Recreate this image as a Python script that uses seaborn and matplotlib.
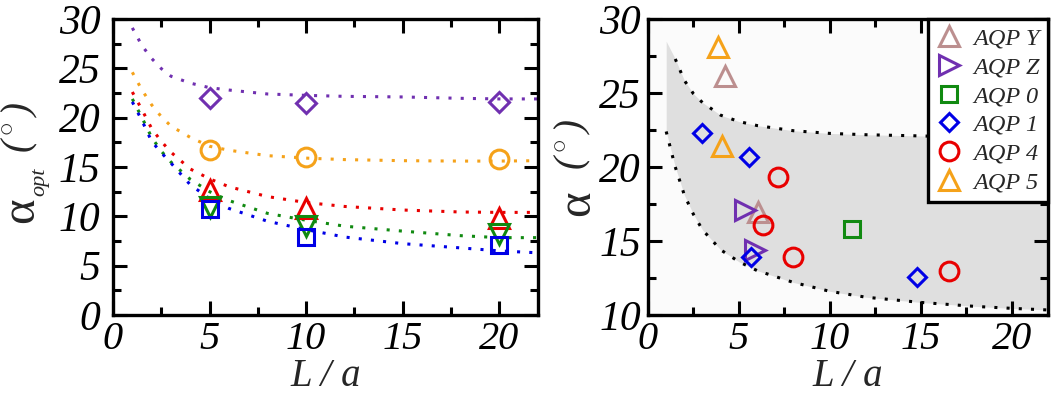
import numpy as np
import pandas as pd
import matplotlib
matplotlib.use("Agg")
import matplotlib.pyplot as plt
import seaborn as sns
from matplotlib.ticker import MultipleLocator

# ---------------- data ----------------
# left panel: optimal angle vs L/a
L_opt = [5, 10, 20]
opt_diamond = [22.0, 21.5, 21.6]     # purple diamonds
opt_circle = [16.7, 16.0, 15.85]     # orange circles
opt_up = [12.65, 10.8, 9.8]          # red up-triangles
opt_down = [10.9, 9.0, 8.2]          # green down-triangles
opt_square = [10.75, 7.9, 7.1]       # blue squares

# fitted dotted curves
fit_x = [1, 1.5, 2, 2.5, 3, 4, 5, 6, 8, 10, 12, 15, 18, 20, 22]
fit_purple = [29.1, 27.3, 26.0, 24.97, 24.2, 23.5, 23.04, 22.8, 22.4, 22.26, 22.16, 22.1, 21.96, 21.9, 21.9]
fit_orange = [24.6, 22.8, 21.3, 20.1, 19.15, 18.0, 17.1, 16.7, 16.15, 15.9, 15.75, 15.64, 15.6, 15.6, 15.64]
fit_red = [22.6, 20.8, 18.9, 17.6, 16.5, 14.8, 13.8, 13.0, 12.0, 11.4, 11.0, 10.64, 10.44, 10.4, 10.4]
fit_green = [21.9, 20.0, 18.0, 16.6, 15.5, 13.75, 12.5, 11.6, 10.3, 9.6, 9.0, 8.5, 8.04, 7.84, 7.84]
fit_blue = [21.6, 19.7, 17.6, 16.45, 15.4, 13.2, 11.8, 10.8, 9.5, 8.65, 7.9, 7.23, 6.8, 6.5, 6.3]

# right panel: band boundaries
band_x = [1, 1.5, 2, 2.5, 3, 4, 5, 6, 8, 10, 12, 15, 18, 20, 22]
band_upper = [28.5, 27.3, 25.85, 24.95, 24.35, 23.5, 23.07, 22.8, 22.45, 22.27, 22.18, 22.1, 22.0, 21.97, 21.95]
band_lower = [22.4, 20.0, 18.1, 16.8, 15.75, 14.4, 13.6, 13.0, 12.2, 11.6, 11.2, 10.85, 10.58, 10.45, 10.34]

# right panel: individual proteins
aqpY_x, aqpY_y = [4.21, 6.06], [26.15, 16.98]
aqpZ_x, aqpZ_y = [5.31, 5.86], [17.1, 14.4]
aqp0_x, aqp0_y = [11.23], [15.8]
aqp1_x, aqp1_y = [2.95, 5.55, 5.66, 14.78], [22.3, 20.7, 13.9, 12.55]
aqp4_x, aqp4_y = [7.16, 6.3, 7.97, 16.57], [19.3, 16.1, 13.94, 13.0]
aqp5_x, aqp5_y = [3.85, 4.07], [28.1, 21.4]

xtick_vals = [0, 5, 10, 15, 20]
ytick_left = [0, 5, 10, 15, 20, 25, 30]
ytick_right = [10, 15, 20, 25, 30]

# ---------------- styling ----------------
sns.set_theme(style="white")
plt.rcParams["font.family"] = ["Liberation Serif", "DejaVu Serif"]
plt.rcParams["font.style"] = "italic"
plt.rcParams["mathtext.fontset"] = "custom"
plt.rcParams["mathtext.rm"] = "Liberation Serif"
plt.rcParams["mathtext.it"] = "Liberation Serif:italic"

PURPLE = "#7030b0"
ORANGE = "#f5a21a"
RED = "#e80000"
GREEN = "#118a11"
BLUE = "#0000e6"
TAN = "#bc8f8f"
DOT = (0, (1, 3))
LW = 2.2
MEW = 2.2
W, H = 1051, 394

fig = plt.figure(figsize=(W / 100, H / 100), dpi=100)
axL = fig.add_axes([113 / W, 1 - 315 / H, (538 - 113) / W, (315 - 19) / H])
axR = fig.add_axes([648 / W, 1 - 315 / H, (1048 - 648) / W, (315 - 19) / H])


def px(x, y):
    return x / W, 1 - y / H


def curve(ax, x, y, color):
    sns.lineplot(x=x, y=y, ax=ax, color=color, lw=LW, linestyle=DOT,
                 errorbar=None, sort=False)


def marks(ax, x, y, color, marker, ms, label=None):
    sns.lineplot(x=x, y=y, ax=ax, color=color, linestyle="", marker=marker,
                 markersize=ms, markerfacecolor="none", markeredgecolor=color,
                 markeredgewidth=MEW, errorbar=None, label=label, sort=False)


# left panel
for ys, c in [(fit_purple, PURPLE), (fit_orange, ORANGE), (fit_red, RED),
              (fit_green, GREEN), (fit_blue, BLUE)]:
    curve(axL, fit_x, ys, c)
marks(axL, L_opt, opt_diamond, PURPLE, "D", 10)
marks(axL, L_opt, opt_circle, ORANGE, "o", 13.5)
marks(axL, L_opt, opt_up, RED, "^", 14)
marks(axL, L_opt, opt_down, GREEN, "v", 14)
marks(axL, L_opt, opt_square, BLUE, "s", 11.5)
axL.set_xlim(0, 22)
axL.set_ylim(0, 30)

# right panel
axR.set_facecolor("#fbfbfb")
axR.fill_between(band_x, band_lower, band_upper, color="#dfdfdf", lw=0, zorder=0.5)
curve(axR, band_x[1:], band_upper[1:], "black")
curve(axR, band_x, band_lower, "black")
marks(axR, aqpY_x, aqpY_y, TAN, "^", 14, "AQP Y")
marks(axR, aqpZ_x, aqpZ_y, PURPLE, ">", 14, "AQP Z")
marks(axR, aqp0_x, aqp0_y, GREEN, "s", 11.5, "AQP 0")
marks(axR, aqp1_x, aqp1_y, BLUE, "D", 9.5, "AQP 1")
marks(axR, aqp4_x, aqp4_y, RED, "o", 13.5, "AQP 4")
marks(axR, aqp5_x, aqp5_y, ORANGE, "^", 14, "AQP 5")
axR.set_xlim(0, 22)
axR.set_ylim(10, 30)
leg = axR.legend(loc="upper right", borderaxespad=0, frameon=True, fancybox=False,
                 prop={"family": "Liberation Serif", "style": "italic", "size": 17.5},
                 handlelength=1.0, handletextpad=0.5, labelspacing=0.28,
                 borderpad=0.35, framealpha=1, edgecolor="black")
leg.get_frame().set_linewidth(2.4)

for ax, yt, pad_y in [(axL, ytick_left, 9), (axR, ytick_right, 5)]:
    ax.set_xlabel("")
    ax.set_ylabel("")
    ax.set_xticks(xtick_vals, labels=[str(v) for v in xtick_vals],
                  fontsize=29, fontstyle="italic", family="Liberation Serif")
    ax.set_yticks(yt, labels=[str(v) for v in yt],
                  fontsize=30, fontstyle="italic", family="Liberation Serif")
    ax.xaxis.set_minor_locator(MultipleLocator(2.5))
    ax.yaxis.set_minor_locator(MultipleLocator(2.5))
    ax.tick_params(which="both", direction="in", top=True, right=True,
                   bottom=True, left=True, width=2.2, colors="black")
    ax.tick_params(which="major", length=10)
    ax.tick_params(which="minor", length=6)
    ax.tick_params(axis="y", which="major", pad=pad_y)
    ax.tick_params(axis="x", which="major", pad=4)
    for s in ax.spines.values():
        s.set_linewidth(2.4)
        s.set_color("black")

# axis titles built from pieces (large upright alpha, small subscript, degree)
rot = dict(rotation=90, rotation_mode="anchor", ha="center")
fig.text(*px(33, 210), "α", fontsize=35, fontstyle="normal", va="baseline", **rot)
fig.text(*px(44, 182), "opt", fontsize=16, fontstyle="italic", va="baseline", **rot)
fig.text(*px(20, 128), r"$(\,^{\circ}\,)$", fontsize=28, va="center", **rot)

fig.text(*px(589, 203), "α", fontsize=35, fontstyle="normal", va="baseline", **rot)
fig.text(*px(573, 145), r"$(\,^{\circ}\,)$", fontsize=28, va="center", **rot)

for cx in (325.5, 848):
    fig.text(*px(cx, 386), "L / a", fontsize=28, fontstyle="italic",
             ha="center", va="baseline")

fig.savefig("out.png", dpi=100)
